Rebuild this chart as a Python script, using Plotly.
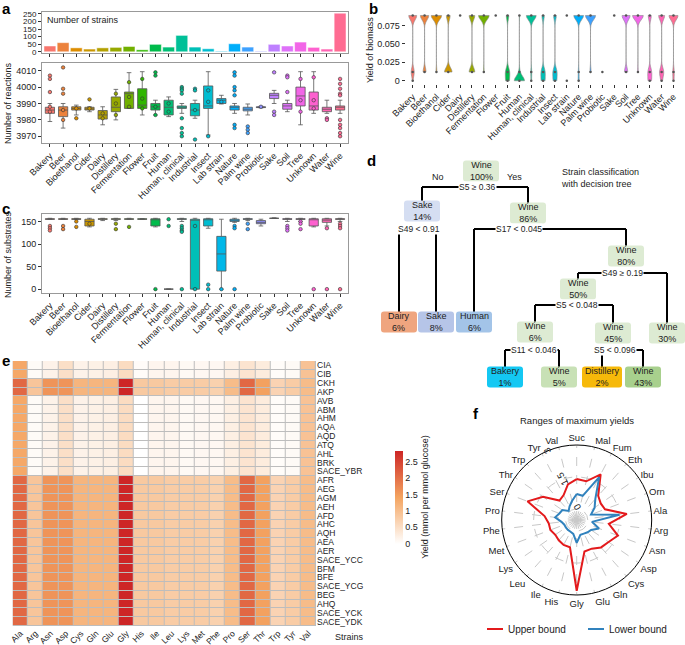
import math
import plotly.graph_objects as go

W, H = 685, 645
FONT = "Liberation Sans, Arial, sans-serif"

# ---------------- data ----------------
categories = ["Bakery", "Beer", "Bioethanol", "Cider", "Dairy", "Distillery", "Fermentation",
              "Flower", "Fruit", "Human", "Human, clinical", "Industrial", "Insect", "Lab strain",
              "Nature", "Palm wine", "Probiotic", "Sake", "Soil", "Tree", "Unknown", "Water", "Wine"]

strain_counts = [38, 60, 26, 18, 26, 29, 35, 13, 49, 31, 108, 31, 20, 4, 53, 31, 4, 49, 38, 64, 29, 18, 254]

# number of reactions (box stats + extra points)
rxn_q1 = [3984, 3982, 3986, 3986, 3980.5, 3985, 3987, 3987, 3986, 3983, 3987, 3982.5, 3987, 3990,
          3986, 3985.5, 3987.5, 3993, 3986.5, 3988.5, 3986, 3985, 3986]
rxn_med = [3986, 3986, 3987, 3986.7, 3983, 3987.7, 3996, 3989, 3988, 3987.7, 3987.7, 3986, 3988.5, 3992,
           3987.7, 3986.5, 3987.7, 3995, 3988.5, 3994.6, 3988.5, 3986.5, 3987.7]
rxn_q3 = [3987.7, 3988, 3988, 3987.7, 3985.7, 3994, 3997, 3999, 3990, 3992, 3988.5, 3990, 4000.7, 3993,
          3988.5, 3987.7, 3988, 3996.2, 3990, 4000, 3997, 3987.7, 3988.5]
rxn_lo = [3979, 3975, 3983, 3985, 3977, 3980, 3987, 3983, 3983, 3982, 3984, 3981, 3970.8, 3989.7,
          3984, 3983, 3987.3, 3990, 3985, 3977, 3984, 3984, 3984]
rxn_hi = [3990, 3990, 3989, 3988, 3988, 3998.6, 4008.8, 4009.4, 3992, 3994, 3990, 3992, 4009.4, 3995,
          3990, 3989.7, 3988.3, 3998, 3992, 4009.4, 4009.4, 3992, 3992]
rxn_pts = [[4007, 4005, 3997, 3988, 3985], [4012, 3999, 3996, 3986, 3980], [3981, 3987], [3992.5, 3987],
           [3984, 3981], [3996, 3990, 3983], [4003, 3994, 3988], [4005, 3993, 3987],
           [4009, 4007, 3983, 3988], [3990, 3985], [4000, 3999, 3998, 3996, 3981, 3975, 3972, 3970],
           [3999, 3998, 3968, 3986], [3970, 3998, 3991], [3991], [4009, 4007, 4000, 3998, 3995, 3977, 3975],
           [3976, 3974, 3972], [3988], [4009, 3985, 3983], [4007, 4006, 3997], [4005, 3992, 3985],
           [4006, 3992, 3987], [3981, 3980], [4005, 4002, 3999, 3996, 3995, 3980, 3977, 3975, 3972, 3970]]

# biomass yield: counts of strains at the three yield levels
yield_levels = [0.0885, 0.0118, 0.0]
n_top = [24, 40, 24, 5, 27, 9, 33, 13, 9, 1, 90, 7, 5, 2, 45, 26, 0, 49, 22, 58, 8, 9, 200]
n_mid = [9, 14, 2, 10, 0, 9, 2, 0, 14, 2, 8, 11, 7, 0, 3, 3, 4, 0, 9, 3, 9, 6, 30]
n_zero = [1, 0, 0, 0, 0, 0, 0, 0, 12, 28, 5, 10, 6, 2, 4, 0, 0, 0, 0, 0, 8, 2, 20]

# number of substrates
sub_q1 = [155, 155, 155, 140, 155, 155, 155, 155, 140, 0, 155, 0, 140, 40, 150, 155, 145, 157, 155, 155, 140, 148, 155]
sub_med = [155, 155, 155, 150, 155, 155, 155, 155, 155, 0, 155, 155, 155, 78, 155, 155, 148, 157, 155, 155, 155, 153, 155]
sub_q3 = [156, 156, 156, 155, 156, 156, 156, 156, 156, 0, 156, 155, 156, 117, 155, 156, 152, 157, 156, 156, 156, 156, 156]
sub_lo = [155, 155, 155, 138, 152, 152, 155, 155, 138, 0, 150, 0, 135, 0, 148, 152, 140, 157, 150, 150, 138, 140, 150]
sub_hi = [157, 157, 157, 157, 157, 157, 157, 156, 157, 0, 157, 157, 157, 155, 157, 157, 155, 158, 157, 157, 157, 157, 157]
sub_pts = [[140, 135, 130], [140, 133], [150, 138], [145], [], [145, 133], [138], [], [0], [155, 140],
           [140, 135, 130, 127, 0], [140, 0], [0, 10], [0], [140, 135, 0], [145, 133], [], [], [140, 135, 130],
           [150, 145, 133], [0], [135, 0], [145, 140, 135, 0]]

# heatmap of amino acid yields
amino_acids = ["Ala", "Arg", "Asn", "Asp", "Cys", "Gln", "Glu", "Gly", "His", "Ile", "Leu", "Lys",
               "Met", "Phe", "Pro", "Ser", "Thr", "Trp", "Tyr", "Val"]
strains = ["CIA", "CIB", "CKH", "AKP", "AVB", "ABM", "AHM", "AQA", "AQD", "ATQ", "AHL", "BRK", "SACE_YBR",
           "AFR", "AEG", "AGM", "AEH", "AFD", "AHC", "AQH", "AEA", "AER", "SACE_YCC", "BFM", "BFE",
           "SACE_YCG", "BEG", "AHQ", "SACE_YCK", "SACE_YDK"]
yield_high = [2.1, 0.9, 1.6, 1.6, 1.15, 1.15, 1.15, 2.84, 0.85, 0.85, 0.8, 0.8, 0.8, 0.72, 1.05,
              2.1, 1.45, 0.68, 0.8, 1.05]
yield_low = [1.35, 0.07, 0.2, 0.5, 0.2, 0.22, 0.25, 0.55, 0.0, 0.15, 0.15, 0.1, 0.12, 0.12, 0.25,
             0.42, 0.3, 0.05, 0.08, 0.95]
yield_ci = [1.35, 0.07, 0.2, 0.5, 0.2, 0.22, 0.25, 0.55, 0.06, 0.15, 0.15, 0.1, 0.12, 0.12, 0.25,
            0.42, 0.3, 0.05, 0.08, 0.95]
strain_profile = ["ci", "ci", "high", "high"] + ["low"] * 9 + ["high"] * 17

# radar of maximum yield ranges
compounds = ["Suc", "Mal", "Fum", "Eth", "Ibu", "Orn", "Ala", "Arg", "Asn", "Asp", "Cys", "Gln", "Glu",
             "Gly", "His", "Ile", "Leu", "Lys", "Met", "Phe", "Pro", "Ser", "Thr", "Trp", "Tyr", "Val"]
upper_bound = [1.4, 1.35, 1.9, 1.0, 0.85, 0.9, 1.85, 1.0, 1.55, 1.3, 1.2, 1.0, 1.0, 2.8, 0.8, 0.8,
               0.75, 0.7, 0.8, 0.8, 1.0, 1.95, 1.4, 0.7, 0.8, 1.2]
lower_bound = [0.7, 0.65, 1.75, 0.8, 0.5, 0.2, 1.5, 0.2, 0.6, 0.3, 0.25, 0.2, 0.2, 0.55, 0.15, 0.1,
               0.1, 0.1, 0.1, 0.2, 0.5, 0.35, 0.3, 0.05, 0.2, 0.4]

# decision tree
tree_nodes = {
    "root": ("Wine", "100%", "#DDEBD3"), "sake14": ("Sake", "14%", "#D5DEF2"),
    "wine86": ("Wine", "86%", "#DDEBD3"), "dairy": ("Dairy", "6%", "#EFA57F"),
    "sake8": ("Sake", "8%", "#B6C5E8"), "human": ("Human", "6%", "#A3C4E8"),
    "wine80": ("Wine", "80%", "#DDEBD3"), "wine50": ("Wine", "50%", "#DDEBD3"),
    "wine30": ("Wine", "30%", "#DDEBD3"), "wine6": ("Wine", "6%", "#DDEBD3"),
    "wine45": ("Wine", "45%", "#DDEBD3"), "bakery": ("Bakery", "1%", "#14C8F3"),
    "wine5": ("Wine", "5%", "#C8E1B6"), "distillery": ("Distillery", "2%", "#F6B90A"),
    "wine43": ("Wine", "43%", "#A8D08D"),
}
tree_splits = [("root", "S5 ≥ 0.36", "sake14", "wine86"), ("sake14", "S49 < 0.91", "dairy", "sake8"),
               ("wine86", "S17 < 0.045", "human", "wine80"), ("wine80", "S49 ≥ 0.19", "wine50", "wine30"),
               ("wine50", "S5 < 0.048", "wine6", "wine45"), ("wine6", "S11 < 0.046", "bakery", "wine5"),
               ("wine45", "S5 < 0.096", "distillery", "wine43")]

# tree layout in pixels (centre of each node box, split label position)
node_pos = {"root": (481, 171), "sake14": (422, 211), "wine86": (528, 213), "dairy": (399, 322),
            "sake8": (436, 322), "human": (474, 322), "wine80": (626, 256), "wine50": (578, 289),
            "wine30": (667, 333), "wine6": (535, 332), "wine45": (613, 333), "bakery": (505, 377),
            "wine5": (559, 377), "distillery": (602, 377), "wine43": (643, 377)}
split_pos = {"root": (477, 187), "sake14": (419, 229), "wine86": (519, 229), "wine80": (622, 273),
             "wine50": (577, 305), "wine6": (534, 350), "wine45": (615, 350)}


def X(px):
    return px / W


def Y(py):
    return 1 - py / H


def hcl_hex(h, c=100, l=65):
    hr = math.radians(h)
    u, v = c * math.cos(hr), c * math.sin(hr)
    xn, yn, zn = 95.047, 100.0, 108.883
    den = xn + 15 * yn + 3 * zn
    un, vn = 4 * xn / den, 9 * yn / den
    y = yn * ((l + 16) / 116) ** 3
    up = u / (13 * l) + un
    vp = v / (13 * l) + vn
    x = y * 9 * up / (4 * vp)
    z = y * (12 - 3 * up - 20 * vp) / (4 * vp)
    x, y, z = x / 100, y / 100, z / 100
    rgb = [3.240479 * x - 1.537150 * y - 0.498535 * z,
           -0.969256 * x + 1.875992 * y + 0.041556 * z,
           0.055648 * x - 0.204043 * y + 1.057311 * z]
    out = []
    for t in rgb:
        t = t * 12.92 if t <= 0.0031308 else 1.055 * t ** (1 / 2.4) - 0.055
        out.append(max(0, min(255, round(t * 255))))
    return "#%02X%02X%02X" % tuple(out)


colors = [hcl_hex(15 + 360 * i / len(categories)) for i in range(len(categories))]

fig = go.Figure()
tick_font = dict(family=FONT, size=9, color="#222")

# ---- a: bars ----
fig.add_trace(go.Bar(x=categories, y=strain_counts, marker=dict(color=colors, line=dict(color="white", width=0.5)),
                     width=0.9, xaxis="x", yaxis="y", showlegend=False, hoverinfo="x+y"))

# ---- a: reactions boxes ----
for i, cat in enumerate(categories):
    fig.add_trace(go.Box(x=[cat], q1=[rxn_q1[i]], median=[rxn_med[i]], q3=[rxn_q3[i]],
                         lowerfence=[rxn_lo[i]], upperfence=[rxn_hi[i]], fillcolor=colors[i],
                         line=dict(color="#555", width=0.8), width=0.7, boxpoints=False,
                         xaxis="x2", yaxis="y2", showlegend=False))
    if rxn_pts[i]:
        fig.add_trace(go.Scatter(x=[cat] * len(rxn_pts[i]), y=rxn_pts[i], mode="markers",
                                 marker=dict(size=3.5, color=colors[i], line=dict(color="#333", width=0.6)),
                                 xaxis="x2", yaxis="y2", showlegend=False))

# ---- b: violins ----
for i, cat in enumerate(categories):
    counts = [n_top[i], n_mid[i], n_zero[i]]
    vals = []
    for lvl, n in zip(yield_levels, counts):
        vals += [lvl] * n
    present = [lvl for lvl, n in zip(yield_levels, counts) if n > 0]
    if len(present) > 1 and sum(counts) > 5:
        frac = max(counts) / sum(counts)
        fig.add_trace(go.Violin(x=[cat] * len(vals), y=vals, spanmode="hard", bandwidth=0.006,
                                scalemode="width", width=0.95 * frac, points=False,
                                fillcolor=colors[i], line=dict(color="#888", width=0.6),
                                xaxis="x3", yaxis="y3", showlegend=False, hoverinfo="skip"))
    fig.add_trace(go.Scatter(x=[cat] * len(present), y=present, mode="markers",
                             marker=dict(size=2.5, color="#555"), xaxis="x3", yaxis="y3",
                             showlegend=False, hoverinfo="skip"))

# ---- c: substrates boxes ----
for i, cat in enumerate(categories):
    fig.add_trace(go.Box(x=[cat], q1=[sub_q1[i]], median=[sub_med[i]], q3=[sub_q3[i]],
                         lowerfence=[sub_lo[i]], upperfence=[sub_hi[i]], fillcolor=colors[i],
                         line=dict(color="#555", width=0.8), width=0.7, boxpoints=False,
                         xaxis="x4", yaxis="y4", showlegend=False))
    if sub_pts[i]:
        fig.add_trace(go.Scatter(x=[cat] * len(sub_pts[i]), y=sub_pts[i], mode="markers",
                                 marker=dict(size=3.5, color=colors[i], line=dict(color="#333", width=0.6)),
                                 xaxis="x4", yaxis="y4", showlegend=False))

# ---- e: heatmap ----
profiles = {"high": yield_high, "low": yield_low, "ci": yield_ci}
z = [profiles[p] for p in strain_profile]
fig.add_trace(go.Heatmap(z=z, x=amino_acids, y=strains, zmin=0, zmax=2.84, xgap=1, ygap=1,
                         colorscale=[[0, "#FFFFFF"], [0.5, "#F4A460"], [1, "#CD2626"]],
                         xaxis="x5", yaxis="y5",
                         colorbar=dict(x=X(385), xanchor="left", y=Y(497), yanchor="middle",
                                       len=113, lenmode="pixels", thickness=8, outlinewidth=0,
                                       tickvals=[0, 0.5, 1, 1.5, 2, 2.5],
                                       ticktext=["0", "0.5", "1", "1.5", "2", "2.5"],
                                       tickfont=tick_font, ticks="",
                                       title=dict(text="Yield (mmol per mmol glucose)", side="right",
                                                  font=dict(family=FONT, size=9, color="#222")))))

# ---- f: radar ----
radar_series = [("Upper bound", upper_bound, "#E31A1C"), ("Lower bound", lower_bound, "#3182BD")]
for name, vals, col in radar_series:
    fig.add_trace(go.Scatterpolar(r=vals + vals[:1], theta=compounds + compounds[:1], mode="lines",
                                  line=dict(color=col, width=2), name=name, showlegend=False))

# ---------------- layout ----------------
cat_x = dict(type="category", categoryorder="array", categoryarray=categories, range=[-0.6, 22.6],
             tickmode="array", tickvals=categories, ticktext=categories,
             tickfont=tick_font, ticks="outside", ticklen=3, tickcolor="#333", showgrid=False,
             zeroline=False, automargin=False, showline=True, linecolor="#999", mirror=True)
num_y = dict(tickfont=tick_font, ticks="outside", ticklen=3, tickcolor="#333", showgrid=False,
             zeroline=False, automargin=False, showline=True, linecolor="#999", mirror=True)

layout = dict(
    width=W, height=H, margin=dict(l=0, r=0, t=0, b=0, autoexpand=False), template="none",
    paper_bgcolor="white", plot_bgcolor="rgba(0,0,0,0)", font=dict(family=FONT, size=9, color="#222"),
    xaxis=dict(cat_x, domain=[X(42), X(348)], anchor="y", showticklabels=False),
    yaxis=dict(num_y, domain=[Y(53), Y(12)], anchor="x", range=[-8, 262], tickvals=[0, 50, 100, 150, 200, 250],
               tickfont=dict(family=FONT, size=8, color="#222")),
    xaxis2=dict(cat_x, domain=[X(42), X(348)], anchor="y2", tickangle=-45),
    yaxis2=dict(num_y, domain=[Y(143), Y(63)], anchor="x2", range=[3965.9, 4014.7],
                tickvals=[3970, 3980, 3990, 4000, 4010]),
    xaxis3=dict(cat_x, domain=[X(405.6), X(680.6)], anchor="y3", tickangle=-45, showline=False),
    yaxis3=dict(num_y, domain=[Y(84), Y(12)], anchor="x3", range=[-0.0044, 0.0932], showline=False,
                tickvals=[0, 0.025, 0.05, 0.075], ticktext=["0", "0.025", "0.050", "0.075"]),
    xaxis4=dict(cat_x, domain=[X(42), X(348)], anchor="y4", tickangle=-45),
    yaxis4=dict(num_y, domain=[Y(292.7), Y(214.3)], anchor="x4", range=[-7.9, 165.9],
                tickvals=[0, 50, 100, 150]),
    xaxis5=dict(domain=[X(12.7), X(316)], anchor="y5", tickangle=-45, tickmode="array",
                tickvals=amino_acids, ticktext=amino_acids, tickfont=dict(family=FONT, size=8.5, color="#222"),
                ticks="", showgrid=False, zeroline=False, automargin=False, showline=False),
    yaxis5=dict(domain=[Y(626), Y(361)], anchor="x5", side="right", autorange="reversed",
                tickmode="array", tickvals=strains, ticktext=strains,
                tickfont=dict(family=FONT, size=8.5, color="#222"), ticks="", showgrid=False,
                zeroline=False, automargin=False, showline=False),
    polar=dict(domain=dict(x=[X(501.7), X(651.7)], y=[Y(595), Y(445)]), bgcolor="white",
               angularaxis=dict(direction="clockwise", rotation=90, showline=True, linecolor="black",
                                linewidth=1, gridcolor="#C8C8C8", griddash="dash", ticks="",
                                tickfont=dict(family=FONT, size=9.5, color="#222")),
               radialaxis=dict(range=[-0.52, 3.0], tickvals=[0, 1.5, 3], ticktext=["0", "1.5", "3"],
                               angle=118, showline=False, ticks="", gridcolor="#C8C8C8", griddash="dash",
                               tickfont=dict(family=FONT, size=9.5, color="#222"))),
    showlegend=False,
)
fig.update_layout(**layout)

shapes = []
# heatmap grid background
shapes.append(dict(type="rect", xref="x5 domain", yref="y5 domain", x0=0, x1=1, y0=0, y1=1,
                   fillcolor="#BDBDBD", line=dict(width=0), layer="below"))

annotations = []


def ann(text, x, y, size=9, **kw):
    d = dict(text=text, x=X(x), y=Y(y), xref="paper", yref="paper", showarrow=False,
             xanchor="center", yanchor="middle",
             font=dict(family=FONT, size=size, color=kw.pop("color", "#222")))
    d.update(kw)
    annotations.append(d)


# panel letters
for letter, x, y in [("a", 6, 9), ("b", 373, 8), ("c", 6, 208), ("d", 371, 160), ("e", 6, 361), ("f", 476, 413)]:
    ann("<b>%s</b>" % letter, x, y, size=15, color="black")

ann("Number of strains", 45, 20, xanchor="left")
ann("Number of reactions", 8, 103, textangle=-90)
ann("Yield of biomass", 370, 50, textangle=-90)
ann("Number of substrates", 8, 255, textangle=-90)
ann("Strains", 349, 637)
ann("Ranges of maximum yields", 577, 420, size=9.5)
ann("Strain classification<br>with decision tree", 559, 178, xanchor="left", align="left")
ann("No", 438, 177)
ann("Yes", 514, 177)

# radar legend keys
for (name, vals, col), lx in zip(radar_series, [487, 588]):
    shapes.append(dict(type="line", xref="paper", yref="paper", x0=X(lx), x1=X(lx + 16), y0=Y(629), y1=Y(629),
                       line=dict(color=col, width=2)))
    ann(name, lx + 19, 629, size=10, xanchor="left")


def rounded_box(cx, cy, w, h, r=3):
    x0, x1, y0, y1 = cx - w / 2, cx + w / 2, cy - h / 2, cy + h / 2
    pts = [("M", x0 + r, y0), ("L", x1 - r, y0), ("Q", x1, y0, x1, y0 + r), ("L", x1, y1 - r),
           ("Q", x1, y1, x1 - r, y1), ("L", x0 + r, y1), ("Q", x0, y1, x0, y1 - r), ("L", x0, y0 + r),
           ("Q", x0, y0, x0 + r, y0)]
    s = ""
    for p in pts:
        coords = p[1:]
        s += p[0] + " " + " ".join("%.5f,%.5f" % (X(coords[k]), Y(coords[k + 1])) for k in range(0, len(coords), 2)) + " "
    return s + "Z"


line_style = dict(color="black", width=2)
for parent, label, left, right in tree_splits:
    sx, sy = split_pos[parent]
    lx, ly = node_pos[left]
    rx, ry = node_pos[right]
    shapes.append(dict(type="line", xref="paper", yref="paper", x0=X(lx), x1=X(rx), y0=Y(sy), y1=Y(sy),
                       line=line_style))
    for cx, cy in [(lx, ly), (rx, ry)]:
        shapes.append(dict(type="line", xref="paper", yref="paper", x0=X(cx), x1=X(cx), y0=Y(sy),
                           y1=Y(cy - 10), line=line_style))
    ann(label, sx, sy, size=8.5, bgcolor="white", borderpad=0)

for key, (name, pct, col) in tree_nodes.items():
    cx, cy = node_pos[key]
    w = 40 if name == "Distillery" else 36
    shapes.append(dict(type="path", xref="paper", yref="paper", path=rounded_box(cx, cy, w, 21),
                       fillcolor=col, line=dict(width=0), layer="above"))
    ann("%s<br>%s" % (name, pct), cx, cy, size=9)

fig.update_layout(shapes=shapes, annotations=annotations)
# drop the default page margin so the figure sits at the window's top-left corner
fig.write_html("out.html", config={"displayModeBar": False},
               post_script="document.body.style.margin='0px';")
